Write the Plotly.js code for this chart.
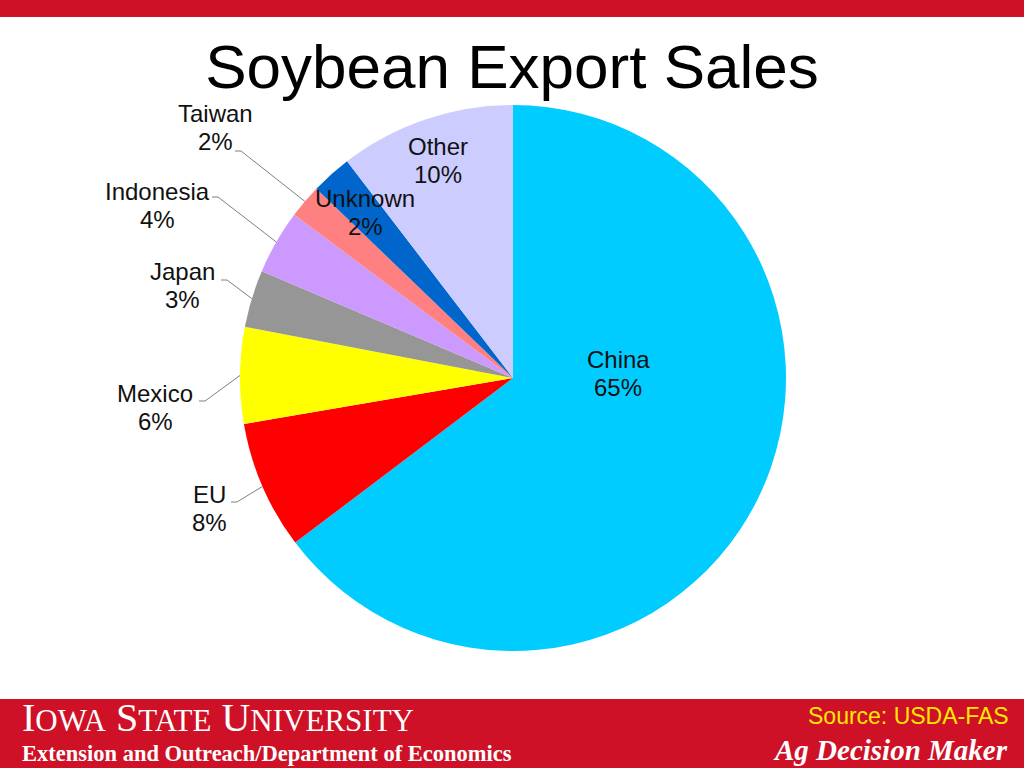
<!DOCTYPE html>
<html>
<head>
<meta charset="utf-8">
<script src="https://cdn.plot.ly/plotly-3.0.1.min.js"></script>
<style>
  html, body { margin: 0; padding: 0; background: #ffffff; }
  #chart { width: 1024px; height: 768px; }
</style>
</head>
<body>
<div id="chart"></div>
<script>
// ---- Data ----
const labels = ['China', 'EU', 'Mexico', 'Japan', 'Indonesia', 'Taiwan', 'Unknown', 'Other'];
const values = [64.7, 7.6, 5.7, 3.4, 3.8, 2.0, 2.4, 10.4];
const sliceColors = ['#00CCFF', '#FF0000', '#FFFF00', '#969696', '#CC99FF', '#FF8080', '#0066CC', '#CCCCFF'];
const titleText = 'Soybean Export Sales';
const sourceText = 'Source: USDA-FAS';

// ---- Layout / style (pixels) ----
const W = 1024, H = 768;
const CX = 513, CY = 378, R = 273;
const LABEL_SIZE = 24, LINE_GAP = 28, CAP = 0.716 * LABEL_SIZE;
// label anchors: [centre x, baseline of first line] (style positions for the text labels)
const labelPos = [[618, 368], [209, 503], [155, 402], [182, 280], [157, 200], [215, 122], [365, 207], [438, 155]];
// leader lines: start of short horizontal tick (null = no leader)
const leaderStart = [null, [231, 502], [199, 401], [221, 280], [212, 197], [235, 151], null, null];
const TICK = 6;

const px = x => x / W;
const py = y => 1 - y / H;

const total = values.reduce((a, b) => a + b, 0);
const annotations = [];
const shapes = [];

// red header / footer bars
shapes.push({type: 'rect', xref: 'paper', yref: 'paper', x0: 0, x1: 1, y0: py(17), y1: 1,
  fillcolor: '#CE1126', line: {width: 0}, layer: 'below'});
shapes.push({type: 'rect', xref: 'paper', yref: 'paper', x0: 0, x1: 1, y0: 0, y1: py(699),
  fillcolor: '#CE1126', line: {width: 0}, layer: 'below'});

const labelFont = {family: 'Liberation Sans, Arial, sans-serif', size: LABEL_SIZE, color: '#111111'};
let cum = 0;
values.forEach((v, i) => {
  const mid = (cum + v / 2) / total * 2 * Math.PI; // clockwise from 12 o'clock
  cum += v;
  const pct = Math.round(v / total * 100);
  const [lx, lb] = labelPos[i];
  [labels[i], pct + '%'].forEach((t, k) => {
    annotations.push({
      xref: 'paper', yref: 'paper', x: px(lx), y: py(lb + k * LINE_GAP - CAP / 2),
      xanchor: 'center', yanchor: 'middle', showarrow: false, align: 'center',
      text: t, font: labelFont
    });
  });
  if (leaderStart[i]) {
    const ex = CX + R * Math.sin(mid);
    const ey = CY - R * Math.cos(mid);
    const [sx, sy] = leaderStart[i];
    shapes.push({
      type: 'path', xref: 'paper', yref: 'paper',
      path: `M ${px(sx)} ${py(sy)} L ${px(sx + TICK)} ${py(sy)} L ${px(ex)} ${py(ey)}`,
      line: {color: '#7F7F7F', width: 1}
    });
  }
});

// footer texts
annotations.push({
  xref: 'paper', yref: 'paper', x: px(20), y: py(717), xanchor: 'left', yanchor: 'middle', showarrow: false,
  text: "I<span style='font-size:31px'>OWA</span> S<span style='font-size:31px'>TATE</span> U<span style='font-size:31px'>NIVERSITY</span>",
  font: {family: 'Liberation Serif, Times New Roman, serif', size: 40, color: '#ffffff'}
});
annotations.push({
  xref: 'paper', yref: 'paper', x: px(20), y: py(753), xanchor: 'left', yanchor: 'middle', showarrow: false,
  text: '<b>Extension and Outreach/Department of Economics</b>',
  font: {family: 'Liberation Serif, Times New Roman, serif', size: 22.5, color: '#ffffff'}
});
annotations.push({
  xref: 'paper', yref: 'paper', x: px(1011), y: py(716), xanchor: 'right', yanchor: 'middle', showarrow: false,
  text: sourceText,
  font: {family: 'Liberation Sans, Arial, sans-serif', size: 23, color: '#FFE800'}
});
annotations.push({
  xref: 'paper', yref: 'paper', x: px(1010), y: py(750), xanchor: 'right', yanchor: 'middle', showarrow: false,
  text: '<b><i>Ag Decision Maker</i></b>',
  font: {family: 'Liberation Serif, Times New Roman, serif', size: 29, color: '#ffffff'}
});

const trace = {
  type: 'pie',
  labels: labels,
  values: values,
  sort: false,
  direction: 'clockwise',
  rotation: 0,
  marker: {colors: sliceColors, line: {width: 0}},
  textinfo: 'none',
  hoverinfo: 'label+percent',
  domain: {x: [px(CX - R), px(CX + R)], y: [py(CY + R), py(CY - R)]}
};

const layout = {
  width: W, height: H,
  margin: {l: 0, r: 0, t: 0, b: 0},
  paper_bgcolor: '#ffffff',
  showlegend: false,
  title: {
    text: titleText, x: 0.5, xanchor: 'center', y: py(66), yanchor: 'middle', xref: 'paper', yref: 'paper',
    font: {family: 'Liberation Sans, Arial, sans-serif', size: 62, color: '#000000'}
  },
  shapes: shapes,
  annotations: annotations
};

Plotly.newPlot('chart', [trace], layout, {displayModeBar: false, staticPlot: true});
</script>
</body>
</html>
